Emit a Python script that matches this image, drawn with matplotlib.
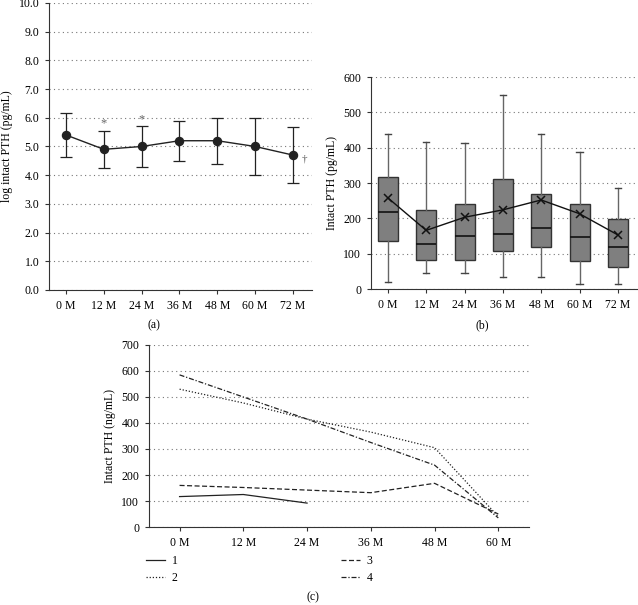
import matplotlib
matplotlib.use("Agg")
import matplotlib.pyplot as plt

plt.rcParams['font.family'] = ['Liberation Serif', 'DejaVu Serif']
plt.rcParams['font.size'] = 8.5

# data
months = ['0 M', '12 M', '24 M', '36 M', '48 M', '60 M', '72 M']

# (a) log intact PTH mean +- sd
log_mean = [5.4, 4.9, 5.0, 5.2, 5.2, 5.0, 4.7]
log_low = [4.65, 4.25, 4.3, 4.5, 4.4, 4.0, 3.72]
log_high = [6.15, 5.55, 5.7, 5.9, 6.0, 6.0, 5.68]
marks = ['', '*', '*', '', '', '', '\u2020']

# (b) box plot stats
wlo = [20, 45, 45, 33, 33, 15, 15]
q1 = [137, 83, 83, 108, 120, 80, 63]
med = [217, 128, 150, 155, 172, 146, 120]
q3 = [317, 225, 240, 312, 270, 240, 198]
whi = [440, 415, 412, 548, 438, 388, 285]
pth_mean = [258, 166, 203, 224, 252, 213, 153]

# (c) individual patients
months_c = ['0 M', '12 M', '24 M', '36 M', '48 M', '60 M']
p1 = [117, 125, 92]
p2 = [530, 477, 415, 365, 305, 40]
p3 = [160, 152, 142, 132, 168, 50]
p4 = [585, 500, 415, 325, 238, 35]

fig = plt.figure(figsize=(6.38, 6.05), dpi=100)

def style(ax):
    ax.spines['top'].set_visible(False)
    ax.spines['right'].set_visible(False)
    ax.yaxis.grid(True, linestyle=(0, (1, 3)), color='#777777', linewidth=0.8)
    ax.set_axisbelow(True)
    ax.tick_params(length=3, width=0.8, color='#333333', pad=4)
    for s in ['left', 'bottom']:
        ax.spines[s].set_color('#333333')

# panel a
ax1 = fig.add_axes([0.0768, 0.5207, 0.412, 0.4744])
style(ax1)
x = list(range(len(months)))
yerr = [[m - l for m, l in zip(log_mean, log_low)], [h - m for m, h in zip(log_mean, log_high)]]
ax1.errorbar(x, log_mean, yerr=yerr, fmt='-o', color='#222222', ms=5.8,
             capsize=4, elinewidth=0.9, capthick=0.9, lw=1.0)
for i, m in enumerate(marks):
    if m == '*':
        ax1.text(x[i], log_high[i] + 0.05, m, ha='center', va='bottom', fontsize=9, color='#666666')
    elif m:
        ax1.text(x[i] + 0.3, log_mean[i] - 0.15, m, ha='center', va='center', fontsize=8, color='#555555')
ax1.set_xlim(-0.45, 6.5)
ax1.set_ylim(0, 10)
ax1.set_yticks([i for i in range(11)])
ax1.set_yticklabels(['%.1f' % i for i in range(11)])
ax1.set_xticks(x)
ax1.set_xticklabels(months)
ax1.set_ylabel('log intact PTH (pg/mL)')
fig.text(154 / 638, 1 - 325 / 605, '(a)', ha='center', va='center')

# panel b
ax2 = fig.add_axes([0.5815, 0.5223, 0.417, 0.3504])
style(ax2)
stats = []
for i in range(len(months)):
    stats.append({'whislo': wlo[i], 'q1': q1[i], 'med': med[i], 'q3': q3[i],
                  'whishi': whi[i], 'fliers': [], 'label': months[i]})
ax2.bxp(stats, positions=x, widths=0.52, patch_artist=True, showfliers=False,
        boxprops=dict(facecolor='#7f7f7f', edgecolor='#333333', linewidth=1.0),
        medianprops=dict(color='#111111', linewidth=1.2),
        whiskerprops=dict(color='#666666', linewidth=1.0),
        capprops=dict(color='#444444', linewidth=1.0), capwidths=0.16)
ax2.plot(x, pth_mean, '-x', color='#111111', ms=6, mew=1.1, lw=1.0)
ax2.set_xlim(-0.44, 6.5)
ax2.set_ylim(0, 600)
ax2.set_yticks(range(0, 601, 100))
ax2.set_xticks(x)
ax2.set_xticklabels(months)
ax2.set_ylabel('Intact PTH (pg/mL)')
fig.text(482 / 638, 1 - 325 / 605, '(b)', ha='center', va='center')

# panel c
ax3 = fig.add_axes([0.2335, 0.1289, 0.5955, 0.3009])
style(ax3)
xc = list(range(len(months_c)))
l1, = ax3.plot(xc[:len(p1)], p1, '-', color='#222222', lw=0.9, label='1')
l2, = ax3.plot(xc, p2, linestyle=(0, (1, 1.5)), color='#222222', lw=0.9, label='2')
l3, = ax3.plot(xc, p3, linestyle=(0, (4, 2)), color='#222222', lw=0.9, label='3')
l4, = ax3.plot(xc, p4, linestyle=(0, (4, 1.5, 1, 1.5)), color='#222222', lw=0.9, label='4')
ax3.set_xlim(-0.48, 5.48)
ax3.set_ylim(0, 700)
ax3.set_yticks(range(0, 701, 100))
ax3.set_xticks(xc)
ax3.set_xticklabels(months_c)
ax3.set_ylabel('Intact PTH (ng/mL)')
fig.legend(handles=[l1, l2, l3, l4], ncol=2, frameon=False,
           loc='upper left', bbox_to_anchor=(146 / 638, 1 - 555 / 605),
           borderpad=0, borderaxespad=0, handlelength=1.6, handletextpad=0.6,
           columnspacing=13.8, labelspacing=0.4)
fig.text(313 / 638, 1 - 597 / 605, '(c)', ha='center', va='center')

fig.savefig('out.png', dpi=100)
